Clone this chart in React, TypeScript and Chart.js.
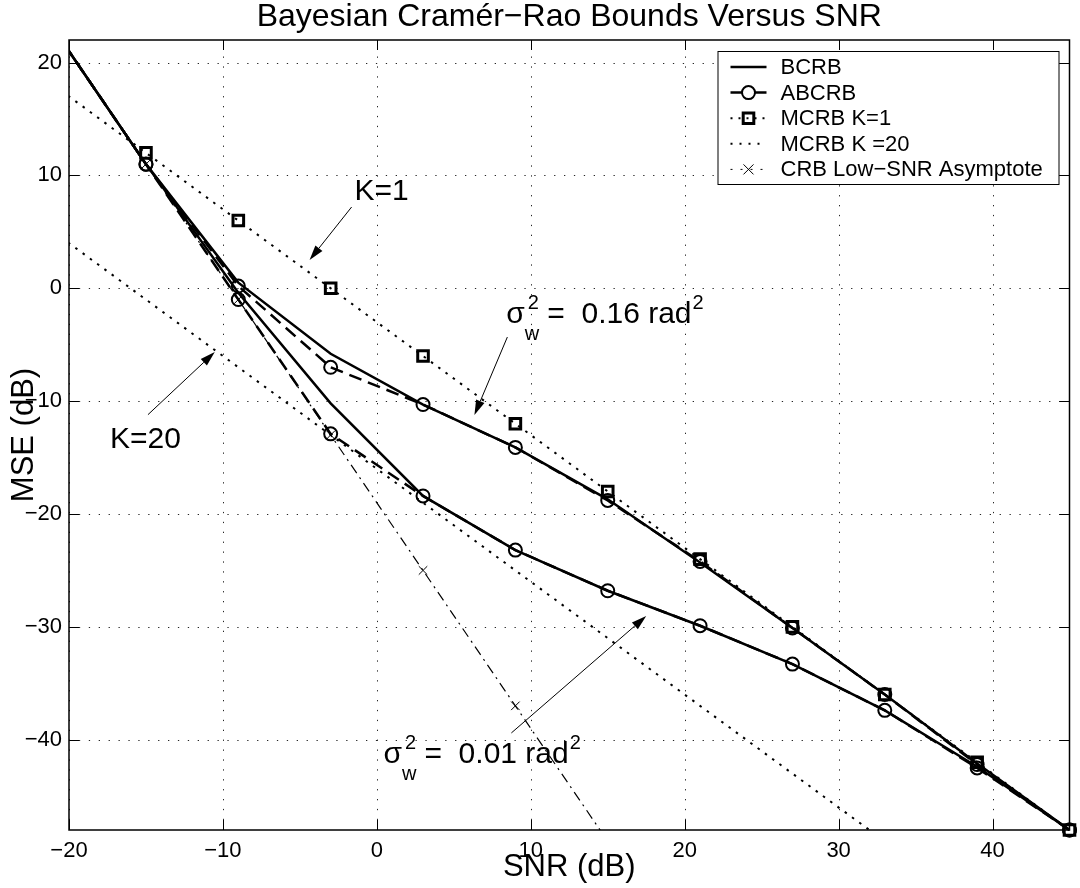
import React, { useEffect, useRef } from "react";
import { Chart, registerables } from "chart.js";

Chart.register(...registerables);

// ---------- data ----------
const SNR_DB = [-21, -15, -9, -3, 3, 9, 15, 21, 27, 33, 39, 45];
const BCRB_016 = [23, 11, 0.5, -5.8, -10.3, -14.1, -18.7, -24.3, -30.1, -36.0, -42.1, -48];
const BCRB_001 = [23, 11, -0.4, -10.2, -18.4, -23.2, -26.8, -29.9, -33.3, -37.4, -42.4, -48];
const ABCRB_016 = [23, 11, 0.2, -7.0, -10.3, -14.1, -18.8, -24.2, -30.1, -36.0, -42.2, -48];
const ABCRB_001 = [23, 11, -1.0, -12.9, -18.4, -23.2, -26.8, -29.9, -33.3, -37.4, -42.5, -48];
const MCRB_K1 = [18, 12, 6, 0, -6, -12, -18, -24, -30, -36, -42, -48];
const MCRB_K20 = [5, -1, -7, -13, -19, -25, -31, -37, -43, -49, -55, -61];
const CRB_ASYM = [23, 11, -1, -13, -25, -37, -49];

const X_TICKS = [-20, -10, 0, 10, 20, 30, 40];
const Y_TICKS = [-40, -30, -20, -10, 0, 10, 20];
const X_RANGE = [-20, 45];
const Y_RANGE = [-48, 22];

const TITLE = "Bayesian Cram\u00e9r\u2212Rao Bounds Versus SNR";
const X_LABEL = "SNR (dB)";
const Y_LABEL = "MSE (dB)";

const LEGEND_LABELS = ["BCRB", "ABCRB", "MCRB K=1", "MCRB K =20", "CRB Low\u2212SNR Asymptote"];

// annotation texts (positions in data units)
const K1_TEXT = { text: "K=1", x: -1.45, y: 7.82 };
const K1_ARROW = { from: [-1.64, 7.2], to: [-4.37, 2.51] };
const K20_TEXT = { text: "K=20", x: -17.34, y: -14.15 };
const K20_ARROW = { from: [-14.87, -11.2], to: [-10.53, -5.65] };
const SIG016_TEXT = { value: "0.16", x: 8.41, y: -3.08 };
const SIG016_ARROW = { from: [8.48, -4.32], to: [6.34, -11.23] };
const SIG001_TEXT = { value: "0.01", x: 0.43, y: -42.06 };
const SIG001_ARROW = { from: [8.74, -39.4], to: [17.5, -29.04] };

const FONT = '"Liberation Sans", Arial, Helvetica, sans-serif';

const pts = (ys: number[]) => ys.map((y, i) => ({ x: SNR_DB[i], y }));

const DASH_ABCRB = [13, 7];
const DASH_DOT = [2.5, 6.5];
const DASH_ASYM = [10, 5, 2, 5];

function drawArrow(ctx: CanvasRenderingContext2D, x1: number, y1: number, x2: number, y2: number) {
  const ang = Math.atan2(y2 - y1, x2 - x1);
  const hl = 15;
  const hw = 4.5;
  const bx = x2 - hl * Math.cos(ang);
  const by = y2 - hl * Math.sin(ang);
  ctx.save();
  ctx.strokeStyle = "#000";
  ctx.fillStyle = "#000";
  ctx.lineWidth = 1;
  ctx.setLineDash([]);
  ctx.beginPath();
  ctx.moveTo(x1, y1);
  ctx.lineTo(bx, by);
  ctx.stroke();
  ctx.beginPath();
  ctx.moveTo(x2, y2);
  ctx.lineTo(bx + hw * Math.sin(ang), by - hw * Math.cos(ang));
  ctx.lineTo(bx - hw * Math.sin(ang), by + hw * Math.cos(ang));
  ctx.closePath();
  ctx.fill();
  ctx.restore();
}

function drawSigma(ctx: CanvasRenderingContext2D, x: number, y: number, value: string) {
  ctx.save();
  ctx.fillStyle = "#000";
  ctx.textAlign = "left";
  ctx.textBaseline = "alphabetic";
  ctx.font = `30px ${FONT}`;
  ctx.fillText("\u03c3", x, y);
  const w = ctx.measureText("\u03c3").width;
  ctx.font = `20px ${FONT}`;
  ctx.fillText("2", x + w + 3, y - 14);
  ctx.fillText("w", x + w + 0, y + 17);
  const ws = ctx.measureText("w").width;
  let cx = x + w + ws + 8;
  ctx.font = `30px ${FONT}`;
  const main = "=  " + value + " rad";
  ctx.fillText(main, cx, y);
  cx += ctx.measureText(main).width;
  ctx.font = `20px ${FONT}`;
  ctx.fillText("2", cx + 1, y - 14);
  ctx.restore();
}

function drawMarker(ctx: CanvasRenderingContext2D, kind: string, x: number, y: number) {
  ctx.save();
  ctx.setLineDash([]);
  ctx.strokeStyle = "#000";
  ctx.beginPath();
  if (kind === "circle") {
    ctx.lineWidth = 2;
    ctx.arc(x, y, 6.5, 0, Math.PI * 2);
  } else if (kind === "square") {
    ctx.lineWidth = 3;
    ctx.rect(x - 5.3, y - 5.3, 10.6, 10.6);
  } else if (kind === "cross") {
    ctx.lineWidth = 1;
    ctx.moveTo(x - 5, y - 5);
    ctx.lineTo(x + 5, y + 5);
    ctx.moveTo(x + 5, y - 5);
    ctx.lineTo(x - 5, y + 5);
  }
  ctx.stroke();
  ctx.restore();
}

const decorPlugin = {
  id: "decor",
  beforeDatasetsDraw(chart: any) {
    const { ctx, chartArea: ca, scales } = chart;
    const xs = scales.x;
    const ys = scales.y;
    ctx.save();
    ctx.beginPath();
    ctx.rect(ca.left, ca.top, ca.right - ca.left, ca.bottom - ca.top);
    ctx.clip();
    ctx.strokeStyle = "rgba(0,0,0,0.85)";
    ctx.lineWidth = 1;
    ctx.setLineDash([1.3, 8.6]);
    for (const t of xs.ticks) {
      const X = Math.round(xs.getPixelForValue(t.value)) + 0.5;
      ctx.beginPath();
      ctx.moveTo(X, ca.bottom);
      ctx.lineTo(X, ca.top);
      ctx.stroke();
    }
    for (const t of ys.ticks) {
      const Y = Math.round(ys.getPixelForValue(t.value)) + 0.5;
      ctx.beginPath();
      ctx.moveTo(ca.left, Y);
      ctx.lineTo(ca.right, Y);
      ctx.stroke();
    }
    ctx.restore();
  },
  afterDatasetsDraw(chart: any) {
    const { ctx, chartArea: ca, scales } = chart;
    const xs = scales.x;
    const ys = scales.y;
    const P = (x: number, y: number) => [xs.getPixelForValue(x), ys.getPixelForValue(y)];

    // inward tick marks
    ctx.save();
    ctx.strokeStyle = "#000";
    ctx.lineWidth = 1;
    ctx.setLineDash([]);
    const tl = 10;
    for (const t of xs.ticks) {
      const X = Math.round(xs.getPixelForValue(t.value)) + 0.5;
      ctx.beginPath();
      ctx.moveTo(X, ca.bottom);
      ctx.lineTo(X, ca.bottom - tl);
      ctx.moveTo(X, ca.top);
      ctx.lineTo(X, ca.top + tl);
      ctx.stroke();
    }
    for (const t of ys.ticks) {
      const Y = Math.round(ys.getPixelForValue(t.value)) + 0.5;
      ctx.beginPath();
      ctx.moveTo(ca.left, Y);
      ctx.lineTo(ca.left + tl, Y);
      ctx.moveTo(ca.right, Y);
      ctx.lineTo(ca.right - tl, Y);
      ctx.stroke();
    }
    // box
    ctx.lineWidth = 1.5;
    ctx.strokeRect(ca.left, ca.top, ca.right - ca.left, ca.bottom - ca.top);
    ctx.restore();

    // annotations
    ctx.save();
    ctx.fillStyle = "#000";
    ctx.font = `30px ${FONT}`;
    ctx.textAlign = "left";
    ctx.textBaseline = "alphabetic";
    for (const a of [K1_TEXT, K20_TEXT]) {
      const [x, y] = P(a.x, a.y);
      ctx.fillText(a.text, x, y);
    }
    ctx.restore();
    for (const s of [SIG016_TEXT, SIG001_TEXT]) {
      const [x, y] = P(s.x, s.y);
      drawSigma(ctx, x, y, s.value);
    }
    for (const a of [K1_ARROW, K20_ARROW, SIG016_ARROW, SIG001_ARROW]) {
      const [x1, y1] = P(a.from[0], a.from[1]);
      const [x2, y2] = P(a.to[0], a.to[1]);
      drawArrow(ctx, x1, y1, x2, y2);
    }

    // legend
    const lw = 341;
    const lh = 133;
    const lx = ca.right - 11 - lw;
    const ly = ca.top + 11;
    ctx.save();
    ctx.fillStyle = "#fff";
    ctx.fillRect(lx, ly, lw, lh);
    ctx.strokeStyle = "#000";
    ctx.lineWidth = 1;
    ctx.strokeRect(lx + 0.5, ly + 0.5, lw, lh);
    const styles = [
      { dash: [], width: 2.5, marker: "" },
      { dash: [12, 12], width: 2.5, marker: "circle" },
      { dash: [2, 6], width: 2, marker: "square" },
      { dash: [2, 7], width: 2, marker: "" },
      { dash: [2, 8], width: 1, marker: "cross" },
    ];
    ctx.font = `22px ${FONT}`;
    ctx.textBaseline = "middle";
    ctx.textAlign = "left";
    LEGEND_LABELS.forEach((lab, i) => {
      const yy = ly + 16 + i * 25.6;
      const st = styles[i];
      ctx.save();
      ctx.strokeStyle = "#000";
      ctx.lineWidth = st.width;
      ctx.setLineDash(st.dash);
      ctx.beginPath();
      ctx.moveTo(lx + 13, yy);
      ctx.lineTo(lx + 49, yy);
      ctx.stroke();
      ctx.restore();
      if (st.marker) drawMarker(ctx, st.marker, lx + 31, yy);
      ctx.fillStyle = "#000";
      ctx.fillText(lab, lx + 63, yy + 1);
    });
    ctx.restore();
  },
  afterDraw(chart: any) {
    const { ctx, chartArea: ca } = chart;
    ctx.save();
    ctx.fillStyle = "#000";
    ctx.textBaseline = "alphabetic";
    ctx.textAlign = "center";
    ctx.font = `32px ${FONT}`;
    ctx.fillText(TITLE, (ca.left + ca.right) / 2, 26);
    ctx.font = `31px ${FONT}`;
    ctx.fillText(X_LABEL, (ca.left + ca.right) / 2, 876);
    ctx.translate(33, (ca.top + ca.bottom) / 2);
    ctx.rotate(-Math.PI / 2);
    ctx.fillText(Y_LABEL, 0, 0);
    ctx.restore();
  },
};

export default function App() {
  const ref = useRef<HTMLCanvasElement | null>(null);
  useEffect(() => {
    if (!ref.current) return;
    const lineDs = (data: number[], extra: any) => ({
      data: pts(data),
      borderColor: "#000",
      backgroundColor: "rgba(0,0,0,0)",
      pointBorderColor: "#000",
      pointBackgroundColor: "rgba(0,0,0,0)",
      tension: 0,
      fill: false,
      ...extra,
    });
    const cornerClip = { left: 0, top: 0, right: 12, bottom: 12 };
    const chart = new Chart(ref.current, {
      type: "line",
      data: {
        datasets: [
          lineDs(MCRB_K20, { label: "MCRB K =20", borderWidth: 2, borderDash: DASH_DOT, pointRadius: 0, clip: 0 }),
          lineDs(MCRB_K1, { label: "MCRB K=1", borderWidth: 2, borderDash: DASH_DOT, pointStyle: "rect", pointRadius: 7.5, pointBorderWidth: 3, clip: cornerClip }),
          lineDs(CRB_ASYM.slice(), { label: "CRB Low-SNR Asymptote", borderWidth: 1.2, borderDash: DASH_ASYM, pointStyle: "crossRot", pointRadius: 6, pointBorderWidth: 1, clip: 0 }),
          lineDs(ABCRB_016, { label: "ABCRB 0.16", borderWidth: 2.5, borderDash: DASH_ABCRB, pointStyle: "circle", pointRadius: 6.5, pointBorderWidth: 2, clip: cornerClip }),
          lineDs(ABCRB_001, { label: "ABCRB 0.01", borderWidth: 2.5, borderDash: DASH_ABCRB, pointStyle: "circle", pointRadius: 6.5, pointBorderWidth: 2, clip: cornerClip }),
          lineDs(BCRB_016, { label: "BCRB 0.16", borderWidth: 2.5, pointRadius: 0, clip: cornerClip }),
          lineDs(BCRB_001, { label: "BCRB 0.01", borderWidth: 2.5, pointRadius: 0, clip: cornerClip }),
        ],
      },
      options: {
        responsive: false,
        animation: false,
        events: [],
        layout: { padding: { top: 40, right: 9, left: 0, bottom: 0 } },
        plugins: { legend: { display: false }, title: { display: false }, tooltip: { enabled: false } },
        scales: {
          x: {
            type: "linear",
            min: X_RANGE[0],
            max: X_RANGE[1],
            afterBuildTicks: (s: any) => {
              s.ticks = X_TICKS.map((v) => ({ value: v }));
            },
            afterFit: (s: any) => {
              s.height = 58;
            },
            grid: { display: false, drawTicks: false },
            border: { display: false },
            ticks: {
              autoSkip: false,
              maxRotation: 0,
              padding: 8,
              color: "#000",
              font: { family: FONT, size: 22 },
              callback: (v: any) => String(v).replace("-", "\u2212"),
            },
          },
          y: {
            type: "linear",
            min: Y_RANGE[0],
            max: Y_RANGE[1],
            afterBuildTicks: (s: any) => {
              s.ticks = Y_TICKS.map((v) => ({ value: v }));
            },
            afterFit: (s: any) => {
              s.width = 69;
            },
            grid: { display: false, drawTicks: false },
            border: { display: false },
            ticks: {
              autoSkip: false,
              padding: 7,
              color: "#000",
              font: { family: FONT, size: 22 },
              callback: (v: any) => String(v).replace("-", "\u2212"),
            },
          },
        },
      },
      plugins: [decorPlugin],
    } as any);
    return () => chart.destroy();
  }, []);
  return (
    <div style={{ position: "absolute", left: 0, top: 0, width: 1080, height: 888, background: "#fff" }}>
      <canvas ref={ref} width={1080} height={888} style={{ display: "block", width: 1080, height: 888 }} />
    </div>
  );
}
